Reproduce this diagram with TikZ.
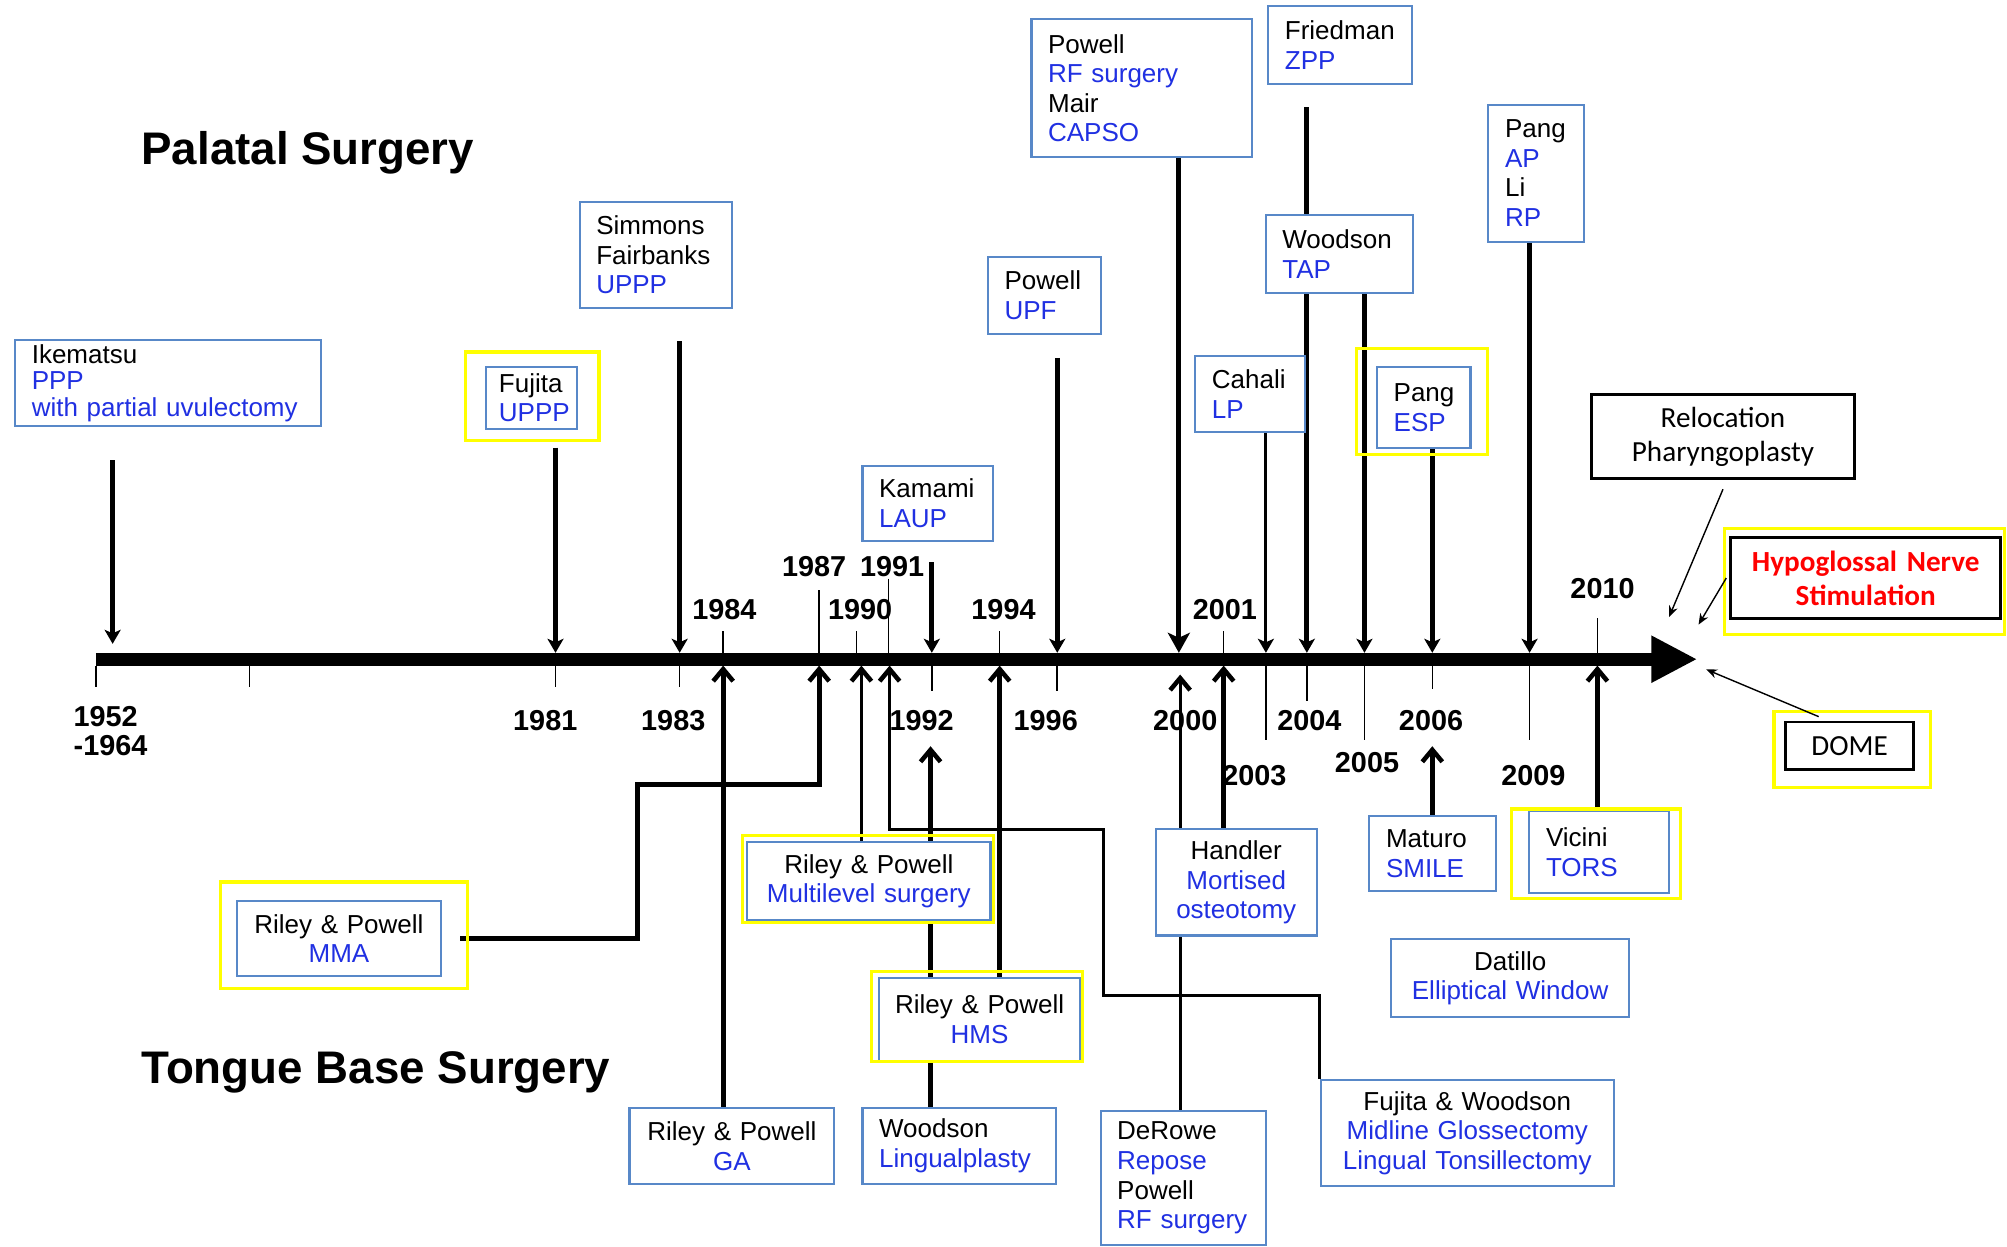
\documentclass[tikz,border=0pt]{standalone}
\usepackage{fontspec}
\setmainfont{Liberation Sans}
\newfontfamily\notefont{Carlito}
\usepackage{tikz}
\usetikzlibrary{arrows.meta,backgrounds}
\definecolor{boxBlue}{RGB}{88,136,200}
\definecolor{techBlue}{RGB}{32,48,226}
\definecolor{markYellow}{RGB}{255,255,0}
\definecolor{noteRed}{RGB}{255,0,0}
\newcommand\techname[1]{\textcolor{techBlue}{#1}}

\begin{document}
\begin{tikzpicture}[
  x=0.128mm, y=-0.128mm,
  every box/.style={
    draw=boxBlue,
    line width=0.6pt,
    fill=white,
    anchor=north west,
    inner ysep=0.5pt,
    font=\fontsize{7.4}{8.4}\selectfont,
  },
  lbox/.code args={#1x#2}{
    \pgfmathsetlengthmacro\boxtw{(#1-26)*0.128mm}
    \pgfmathsetlengthmacro\boxht{#2*0.128mm}
    \tikzset{every box/.try, text width/.expanded=\boxtw,
      minimum height/.expanded=\boxht, inner xsep=1.664mm, align=left}
  },
  cbox/.code args={#1x#2}{
    \pgfmathsetlengthmacro\boxtw{(#1-8)*0.128mm}
    \pgfmathsetlengthmacro\boxht{#2*0.128mm}
    \tikzset{every box/.try, text width/.expanded=\boxtw,
      minimum height/.expanded=\boxht, inner xsep=0.512mm, align=center}
  },
  note box/.style={
    draw=black,
    line width=0.8pt,
    font=\notefont\fontsize{8.3}{9.8}\selectfont,
  },
  title/.style={font=\fontsize{13}{15}\bfseries\selectfont, anchor=west, inner sep=0pt},
  year/.style={font=\fontsize{8.2}{8.4}\bfseries\selectfont, inner sep=0pt},
  tick/.style={line width=0.45pt},
  timeline/.style={line width=3.6pt, -{Triangle[length=4.6mm,width=4.4mm]}},
  drop/.style={line width=1.4pt, -{Stealth[length=1.4mm,width=1.6mm,inset=0.35mm]}},
  lift/.style={line width=1.4pt, -{Straight Barb[length=1.2mm,width=2mm,line width=1.3pt]}},
  light/.style={line width=0.85pt},
  mark frame/.style={draw=markYellow, line width=0.9pt},
  note arrow/.style={line width=0.4pt, -{Stealth[length=1.1mm,width=0.9mm]}}
]
\useasboundingbox (0,0) rectangle (1568,974);

\node[title] (palatal) at (110,119) {Palatal Surgery};
\node[title] (tongue) at (110,838) {Tongue Base Surgery};

\coordinate (t0) at (75,515);
\coordinate (tEnd) at (1326,515);
\draw[timeline] (t0) -- (tEnd);

\foreach \px/\ya/\yb in {75/520/537, 195/520/537, 434/520/537, 531/520/537,
    728/520/540, 826/520/540, 989/520/578, 1021/520/548, 1066/520/578,
    1119/520/538, 1195/520/578, 565/493/510, 640/461/510, 669/493/510,
    694/452/510, 781/493/510, 956/493/510, 1248/483/510}
  \draw[tick] (\px,\ya) -- (\px,\yb);

\node[year, align=left, anchor=north west] (yr1952) at (57,551) {1952\\-1964};
\foreach \yr/\px/\py in {1981/426/563, 1983/526/563, 1984/566/476, 1987/636/443,
    1990/672/476, 1991/697/443, 1992/720/563, 1994/784/476, 1996/817/563,
    2000/926/563, 2001/957/476, 2003/980/606, 2004/1023/563, 2005/1068/596,
    2006/1118/563, 2009/1198/606, 2010/1252/460}
  \node[year] (yr\yr) at (\px,\py) {\yr};

\foreach \yr/\px in {1981/434, 1983/531, 1992/728, 1996/826, 2000/921,
    2003/989, 2004/1021, 2005/1066, 2006/1119, 2009/1195}
  \coordinate (top\yr) at (\px,510);
\foreach \yr/\px in {1984/565, 1987/640, 1990/673, 1991/695, 1994/781,
    2001/956, 2010/1248}
  \coordinate (bot\yr) at (\px,520);
\coordinate (top1952) at (88,503);
\coordinate (bot2000) at (922,527);
\coordinate (up1992) at (727,583);
\coordinate (up2006) at (1119,583);

% palatal side
\node[lbox=239x67, font=\fontsize{7.4}{7.6}\selectfont] (ikematsu) at (11,265)
  {Ikematsu\\\techname{PPP}\\\techname{with partial uvulectomy}};
\node[lbox=77x48, inner xsep=1.28mm] (fujita) at (379,286) {Fujita\\\techname{UPPP}};
\node[lbox=119x83] (simmons) at (452,157) {Simmons\\Fairbanks\\\techname{UPPP}};
\node[lbox=102x59] (kamami) at (673,363) {Kamami\\\techname{LAUP}};
\node[lbox=88x60] (upf) at (771,200) {Powell\\\techname{UPF}};
\node[lbox=172x108] (capso) at (805,14)
  {Powell\\\techname{RF surgery}\\Mair\\\techname{CAPSO}};
\node[lbox=112x61] (friedman) at (990,4) {Friedman\\\techname{ZPP}};
\node[lbox=115x61] (tap) at (988,167) {Woodson\\\techname{TAP}};
\node[lbox=86x60] (cahali) at (933,277) {Cahali\\\techname{LP}};
\node[lbox=73x63] (esp) at (1075,286) {Pang\\\techname{ESP}};
\node[lbox=75x107] (aprp) at (1162,81) {Pang\\\techname{AP}\\Li\\\techname{RP}};

\node[cbox=206x66, note box] (reloc) at (1242,307) {Relocation\\Pharyngoplasty};
\node[cbox=211x63, note box, text=noteRed,
  font=\notefont\bfseries\fontsize{8.3}{9.6}\selectfont] (hns) at (1351,419)
  {Hypoglossal Nerve\\Stimulation};
\node[cbox=100x37, note box] (dome) at (1394,563) {DOME};

% tongue base side
\node[cbox=160x59] (mma) at (184,703) {Riley \& Powell\\\techname{MMA}};
\node[cbox=190x61] (multi) at (583,657) {Riley \& Powell\\\techname{Multilevel surgery}};
\node[cbox=157x65] (hms) at (686,763) {Riley \& Powell\\\techname{HMS}};
\node[cbox=160x59] (ga) at (491,865) {Riley \& Powell\\\techname{GA}};
\node[lbox=151x59] (lingual) at (673,865) {Woodson\\\techname{Lingualplasty}};
\node[lbox=129x105] (derowe) at (859,867)
  {DeRowe\\\techname{Repose}\\Powell\\\techname{RF surgery}};
\node[cbox=126x83] (handler) at (902,647) {Handler\\\techname{Mortised}\\\techname{osteotomy}};
\node[cbox=229x83] (fw) at (1031,843)
  {Fujita \& Woodson\\\techname{Midline Glossectomy}\\\techname{Lingual Tonsillectomy}};
\node[lbox=99x58] (smile) at (1069,637) {Maturo\\\techname{SMILE}};
\node[lbox=109x64] (tors) at (1194,633) {Vicini\\\techname{TORS}};
\node[cbox=186x61] (datillo) at (1086,733) {Datillo\\\techname{Elliptical Window}};

\foreach \xa/\ya/\xb/\yb in {364/275/468/344, 1060/272/1162/355, 172/689/365/772,
    580/653/776/721, 681/759/846/829, 1181/632/1313/702, 1347/413/1566/496,
    1386/556/1508/615}
  \draw[mark frame] (\xa,\ya) rectangle (\xb,\yb);

\coordinate (relTip) at (1304,482);
\coordinate (hnsTip) at (1327,488);
\coordinate (domeTip) at (1333,523);
\draw[note arrow] ([yshift=-0.9mm]reloc.south) -- (relTip);
\draw[note arrow] ([xshift=-0.3mm]hns.west) -- (hnsTip);
\draw[note arrow] ([xshift=-3.1mm,yshift=0.4mm]dome.north) -- (domeTip);

\begin{scope}[on background layer]
  \draw[drop, shorten <=3.3mm] (ikematsu.south -| top1952) -- (top1952);
  \draw[drop, shorten <=1.8mm] (fujita.south -| top1981) -- (top1981);
  \draw[drop, shorten <=3.2mm] (simmons.south -| top1983) -- (top1983);
  \draw[drop, shorten <=2mm] (kamami.south -| top1992) -- (top1992);
  \draw[drop, shorten <=2.3mm] (upf.south -| top1996) -- (top1996);
  \draw[drop, -{Stealth[length=2mm,width=2.2mm,inset=0.5mm]}] (capso.south -| top2000) -- (top2000);
  \draw[drop, light] (cahali.south -| top2003) -- (top2003);
  \draw[drop, shorten <=2.2mm] (friedman.south -| top2004) -- (top2004);
  \draw[drop] (tap.south -| top2005) -- (top2005);
  \draw[drop] (esp.south -| top2006) -- (top2006);
  \draw[drop] (aprp.south -| top2009) -- (top2009);

  \draw[lift] (ga.north -| bot1984) -- (bot1984);
  \draw[lift] ([xshift=1.8mm]mma.east) -| (498,613) -| (bot1987);
  \draw[lift, light] (multi.north -| bot1990) -- (bot1990);
  \draw[lift, light] (fw.north west) |- (862,778) |- (695,648) -- (bot1991);
  \draw[lift] (lingual.north -| up1992) -- (up1992);
  \draw[lift] (hms.north -| bot1994) -- (bot1994);
  \draw[lift, light] (derowe.north -| bot2000) -- (bot2000);
  \draw[lift] (handler.north -| bot2001) -- (bot2001);
  \draw[lift] (smile.north -| up2006) -- (up2006);
  \draw[lift] (tors.north -| bot2010) -- (bot2010);
\end{scope}
\end{tikzpicture}
\end{document}
